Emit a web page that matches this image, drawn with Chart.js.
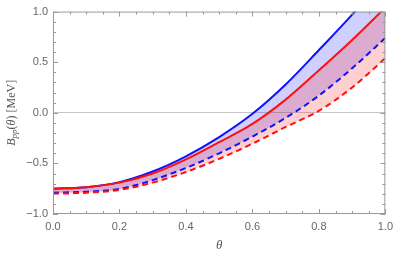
<!DOCTYPE html>
<html>
<head>
<meta charset="utf-8">
<script src="https://cdn.jsdelivr.net/npm/chart.js@4.4.1/dist/chart.umd.min.js"></script>
<style>
  body { margin: 0; background: #fff; }
  #wrap { width: 399px; height: 258px; position: relative; }
</style>
</head>
<body>
<div id="wrap"><canvas id="bppchart"></canvas></div>
<script>
// theta grid and the four curves
const thetas = [0, 0.1, 0.2, 0.3, 0.4, 0.5, 0.6, 0.7, 0.8, 0.9, 1.0];
const blueUpper = [-0.75, -0.735, -0.685, -0.58, -0.43, -0.24, -0.01, 0.28, 0.62, 0.97, 1.35];
const blueLower = [-0.79, -0.78, -0.752, -0.665, -0.545, -0.40, -0.235, -0.05, 0.17, 0.44, 0.74];
const redUpper = [-0.75, -0.735, -0.69, -0.60, -0.46, -0.29, -0.11, 0.13, 0.42, 0.72, 1.04];
const redLower = [-0.80, -0.79, -0.762, -0.69, -0.585, -0.455, -0.305, -0.14, 0.02, 0.25, 0.54];
const xTicks = [0, 0.2, 0.4, 0.6, 0.8, 1.0];
const yTicks = [-1.0, -0.5, 0.0, 0.5, 1.0];

const bppChart = document.getElementById("bppchart");

function pts(ys) {
    return thetas.map((t, i) => ({ x: t, y: ys[i] }));
}

// frame with inward ticks on all four sides, plus axis titles
const framePlugin = {
    id: 'frame',
    afterDraw(chart) {
        const ctx = chart.ctx;
        const a = chart.chartArea;
        const xs = chart.scales.x;
        const ys = chart.scales.y;
        ctx.save();
        ctx.strokeStyle = '#9a9a9a';
        ctx.lineWidth = 1;
        ctx.strokeRect(a.left + 0.5, a.top + 0.5, a.right - a.left - 1, a.bottom - a.top - 1);
        ctx.beginPath();
        for (let i = 0; i <= 20; i++) {
            const px = Math.round(xs.getPixelForValue(i * 0.05)) + 0.5;
            const len = i % 4 === 0 ? 5 : 3;
            ctx.moveTo(px, a.bottom); ctx.lineTo(px, a.bottom - len);
            ctx.moveTo(px, a.top); ctx.lineTo(px, a.top + len);
        }
        for (let i = 0; i <= 20; i++) {
            const py = Math.round(ys.getPixelForValue(-1 + i * 0.1)) + 0.5;
            const len = i % 5 === 0 ? 5 : 3;
            ctx.moveTo(a.left, py); ctx.lineTo(a.left + len, py);
            ctx.moveTo(a.right, py); ctx.lineTo(a.right - len, py);
        }
        ctx.stroke();

        // x title
        ctx.fillStyle = '#555';
        ctx.font = 'italic 13px "Liberation Serif"';
        ctx.textAlign = 'center';
        ctx.textBaseline = 'middle';
        ctx.fillText('θ', (a.left + a.right) / 2, 246);

        // y title: B_pp(θ) [MeV]
        const parts = [
            { t: 'B', f: 'italic 12px "Liberation Serif"', dy: 0 },
            { t: 'pp', f: 'italic 9px "Liberation Serif"', dy: 3 },
            { t: '(', f: '12px "Liberation Serif"', dy: 0 },
            { t: 'θ', f: 'italic 12px "Liberation Serif"', dy: 0 },
            { t: ') [MeV]', f: '12px "Liberation Serif"', dy: 0 }
        ];
        let total = 0;
        parts.forEach(p => { ctx.font = p.f; p.w = ctx.measureText(p.t).width; total += p.w; });
        ctx.translate(12, (a.top + a.bottom) / 2);
        ctx.rotate(-Math.PI / 2);
        ctx.textAlign = 'left';
        ctx.textBaseline = 'middle';
        let cx = -total / 2;
        parts.forEach(p => {
            ctx.font = p.f;
            ctx.fillText(p.t, cx, p.dy);
            cx += p.w;
        });
        ctx.restore();
    }
};

const bppChartInstance = new Chart(bppChart, {
    type: 'line',
    data: {
        datasets: [
            {
                label: 'blue upper',
                data: pts(blueUpper),
                borderColor: '#1010ff',
                backgroundColor: 'rgba(40, 40, 255, 0.22)',
                borderWidth: 2,
                fill: '+1'
            },
            {
                label: 'blue lower',
                data: pts(blueLower),
                borderColor: '#1010ff',
                borderWidth: 2,
                borderDash: [6, 4],
                fill: false
            },
            {
                label: 'red upper',
                data: pts(redUpper),
                borderColor: '#ff1010',
                backgroundColor: 'rgba(255, 40, 40, 0.22)',
                borderWidth: 2,
                fill: '+1',
                order: -1
            },
            {
                label: 'red lower',
                data: pts(redLower),
                borderColor: '#ff1010',
                borderWidth: 2,
                borderDash: [6, 4],
                fill: false,
                order: -1
            }
        ]
    },
    options: {
        responsive: true,
        maintainAspectRatio: false,
        animation: false,
        layout: { padding: { top: 7, right: 10, left: 0, bottom: 0 } },
        elements: {
            point: { radius: 0 },
            line: { cubicInterpolationMode: 'monotone' }
        },
        plugins: {
            legend: { display: false },
            tooltip: { enabled: false },
            filler: { drawTime: 'beforeDatasetsDraw' }
        },
        scales: {
            x: {
                type: 'linear',
                min: 0,
                max: 1,
                afterBuildTicks: scale => { scale.ticks = xTicks.map(v => ({ value: v })); },
                afterFit: scale => { scale.height = 44; },
                grid: { display: false, drawTicks: false },
                border: { display: false },
                ticks: {
                    padding: 6,
                    color: '#666',
                    font: { family: 'Liberation Sans', size: 11 },
                    callback: v => v.toFixed(1)
                }
            },
            y: {
                type: 'linear',
                min: -1,
                max: 1,
                afterBuildTicks: scale => { scale.ticks = yTicks.map(v => ({ value: v })); },
                afterFit: scale => { scale.width = 53; },
                grid: {
                    drawTicks: false,
                    color: ctx => (ctx.tick && ctx.tick.value === 0 ? '#c4c4c4' : 'rgba(0,0,0,0)'),
                    lineWidth: 1
                },
                border: { display: false },
                ticks: {
                    padding: 5,
                    color: '#666',
                    font: { family: 'Liberation Sans', size: 11 },
                    callback: v => v.toFixed(1).replace('-', '\u2212')
                }
            }
        }
    },
    plugins: [framePlugin]
});
</script>
</body>
</html>
